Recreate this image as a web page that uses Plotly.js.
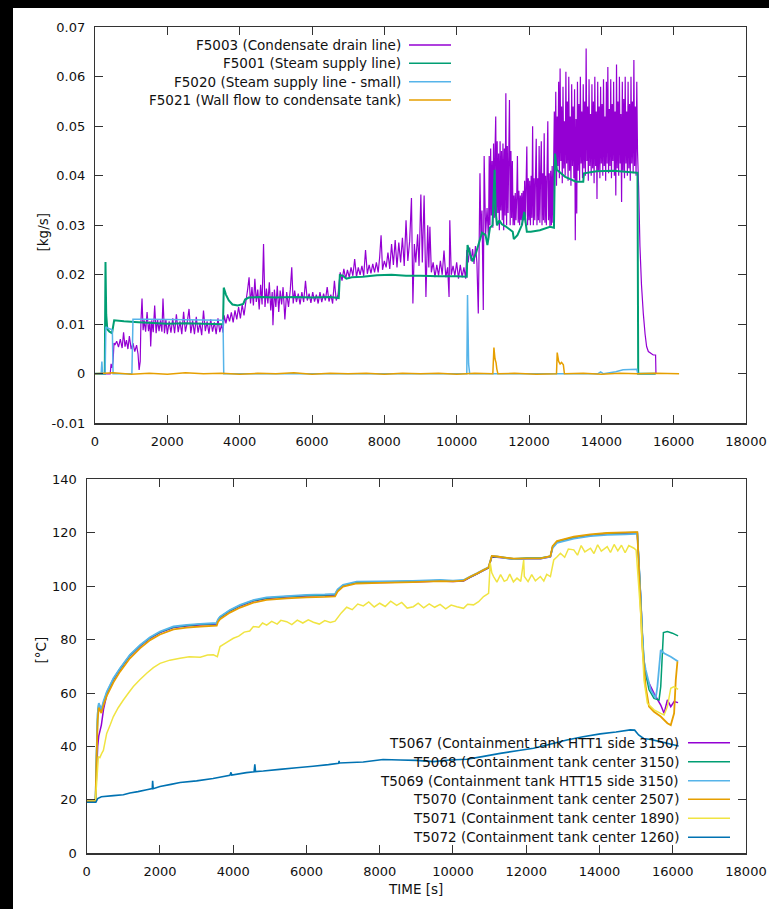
<!DOCTYPE html>
<html><head><meta charset="utf-8">
<script src="https://cdn.plot.ly/plotly-3.0.1.min.js"></script>
<style>
html,body{margin:0;padding:0;background:#000;width:769px;height:909px;overflow:hidden;}
#chart{position:absolute;left:13px;top:8px;width:756px;height:901px;background:#fff;}
#barL{position:absolute;left:0;top:0;width:13px;height:909px;background:#000;z-index:10;}
#barT{position:absolute;left:0;top:0;width:769px;height:8px;background:#000;z-index:10;}
</style></head><body><div id="chart"></div><div id="barL"></div><div id="barT"></div>
<script>
// ---------- TOP PLOT DATA (flow, kg/s) ----------
const flowNames = ["F5003 (Condensate drain line)","F5001 (Steam supply line)","F5020 (Steam supply line - small)","F5021 (Wall flow to condensate tank)"];

const tF5003 = [0,420,445,470,500,525,
550,600,650,700,750,790,830,870,910,950,1000,1050,1100,1150,1190,1220,1250,
1270,1300,1330,1360,1400,1440,1480,1520,1540,1570,1610,1650,1690,1730,1770,1810,1850,1880,1920,1960,2000,2050,2100,2150,2200,2250,2300,2350,2400,2450,2500,2550,2600,2650,2700,2750,2800,2850,2900,2950,3000,3050,3100,3150,3200,3250,3300,3350,3400,3450,3500,3540,
3570,3620,3670,3720,3770,3820,3870,3920,3970,4020,4070,4120,4170,
4220,4260,4300,4340,4380,4420,4460,4500,4540,4580,4620,4660,4700,4740,4780,4820,4860,4900,4920,4960,5000,5040,5080,5120,5160,5200,5250,5300,5350,5400,5440,5480,5520,5570,5620,5670,5720,5770,5820,5870,5920,5970,6020,6070,6120,6170,6220,6270,6320,6370,6420,6470,6520,6570,6620,6670,6720,
6780,6830,6880,6930,6980,7030,7080,7130,7180,7230,7280,7330,7380,7430,7480,7530,7580,7630,7680,7730,7780,7830,7870,7910,7950,8000,8050,8100,8150,8200,8250,8300,8350,8400,8450,8500,8550,8600,8650,8700,8750,8790,8830,8870,8920,8960,9010,9050,9100,9150,9200,9230,9260,9300,9350,9400,9450,9500,9550,9600,9650,9700,9750,9790,9810,9850,9900,9950,10000,10050,10100,10150,10200,10250,
10280,10320,10360,10400,10440,10480,10520,10560,10598,10620,10644,10670,10700,10736,10760,10800,10840,10880,
10900,10920,10940,10960,10980,11000,11020,11040,11060,11080,11100,11120,11140,11160,11180,11200,11220,11240,11260,11280,11300,11320,11340,11360,11380,11400,11420,11440,11460,11480,11500,11520,11540,11560,
11580,11600,11620,11640,11660,11680,11700,11720,11740,11760,11780,11800,11820,11840,
11860,11880,11900,11920,11940,11960,11980,12000,12020,12040,12060,12080,12100,12120,12140,12160,12180,12200,12220,12240,12260,12280,12300,12320,12340,12360,12380,12400,12420,12440,12460,12480,12500,12520,12540,12560,12580,12600,12620,12640,12660,12680,
12700,12720,12740,12760,12780,12800,12820,12840,12860,12880,12900,12920,12940,12960,12980,13000,13020,13040,13060,13080,13100,13120,13140,13160,13180,13200,13220,13240,13260,13280,13300,13320,13340,13360,13380,13400,13420,13440,13460,13480,13500,13520,13540,13560,13580,13600,13620,13640,13660,13680,13700,13720,13740,13760,13780,13800,13820,13840,13860,13880,13900,13920,13940,13960,13980,14000,14020,14040,14060,14080,14100,14120,14140,14160,14180,14200,14220,14240,14260,14280,14300,14320,14340,14360,14380,14400,14420,14440,14460,14480,14500,14520,14540,14560,14580,14600,14620,14640,14660,14680,14700,14720,14740,14760,14780,14800,14820,14840,14860,14880,14900,14920,14940,14960,14980,15000,
15030,15068,15110,15160,15210,15252,15300,15436,15500,15510];
const vF5003 = [0,0,0.0020,0.0012,0.0025,0.0062,
0.0058,0.0066,0.0054,0.0070,0.0052,0.0084,0.0055,0.0068,0.0050,0.0076,0.0050,0.0062,0.0045,0.0058,0.0040,0.0008,0.0025,
0.0105,0.0152,0.0088,0.0108,0.0085,0.0125,0.0086,0.0106,0.0055,0.0108,0.0084,0.0138,0.0082,0.0110,0.0086,0.0108,0.0085,0.0152,0.0082,0.0110,0.0080,0.0106,0.0083,0.0112,0.0082,0.0120,0.0084,0.0106,0.0080,0.0125,0.0085,0.0104,0.0131,0.0082,0.0108,0.0080,0.0115,0.0083,0.0103,0.0078,0.0128,0.0086,0.0106,0.0081,0.0110,0.0085,0.0104,0.0080,0.0112,0.0084,0.0100,0.0083,
0.0118,0.0102,0.0120,0.0106,0.0124,0.0104,0.0128,0.0110,0.0135,0.0112,0.0140,0.0118,0.0145,
0.0170,0.0195,0.0142,0.0175,0.0138,0.0192,0.0145,0.0170,0.0130,0.0180,0.0140,0.0262,0.0135,0.0172,0.0142,0.0185,0.0128,0.0165,0.0098,0.0170,0.0135,0.0178,0.0125,0.0168,0.0140,0.0175,0.0110,0.0165,0.0135,0.0170,0.0215,0.0142,0.0168,0.0145,0.0162,0.0140,0.0165,0.0145,0.0188,0.0148,0.0162,0.0143,0.0165,0.0146,0.0160,0.0142,0.0165,0.0145,0.0162,0.0148,0.0175,0.0146,0.0160,0.0142,0.0188,0.0148,0.0160,
0.0205,0.0188,0.0212,0.0192,0.0210,0.0195,0.0215,0.0198,0.0232,0.0196,0.0215,0.0200,0.0218,0.0198,0.0250,0.0202,0.0220,0.0203,0.0222,0.0205,0.0225,0.0205,0.0235,0.0280,0.0210,0.0228,0.0215,0.0245,0.0212,0.0262,0.0220,0.0270,0.0215,0.0265,0.0225,0.0275,0.0218,0.0310,0.0228,0.0268,0.0355,0.0142,0.0262,0.0225,0.0282,0.0218,0.0362,0.0225,0.0360,0.0155,0.0300,0.0215,0.0297,0.0205,0.0225,0.0195,0.0220,0.0198,0.0228,0.0200,0.0249,0.0195,0.0215,0.0155,0.0310,0.0200,0.0218,0.0198,0.0225,0.0192,0.0220,0.0195,0.0215,0.0192,
0.0250,0.0225,0.0255,0.0228,0.0252,0.0222,0.0258,0.0225,0.0122,0.0250,0.0405,0.0280,0.0330,0.0129,0.0440,0.0280,0.0335,0.0270,
0.0440,0.0300,0.0455,0.0320,0.0430,0.0295,0.0465,0.0315,0.0450,0.0520,0.0300,0.0470,0.0325,0.0445,0.0290,0.0470,0.0330,0.0450,0.0310,0.0465,0.0290,0.0455,0.0320,0.0567,0.0300,0.0460,0.0325,0.0440,0.0553,0.0300,0.0450,0.0315,0.0430,0.0300,
0.0360,0.0300,0.0365,0.0310,0.0355,0.0440,0.0305,0.0370,0.0300,0.0360,0.0310,0.0365,0.0300,0.0370,
0.0310,0.0390,0.0305,0.0385,0.0459,0.0300,0.0395,0.0310,0.0390,0.0300,0.0400,0.0315,0.0500,0.0300,0.0395,0.0310,0.0400,0.0475,0.0300,0.0395,0.0310,0.0460,0.0305,0.0400,0.0470,0.0300,0.0405,0.0310,0.0486,0.0305,0.0400,0.0300,0.0410,0.0510,0.0310,0.0405,0.0295,0.0410,0.0300,0.0420,0.0305,0.0415,
0.0530,0.0410,0.0570,0.0380,0.0520,0.0420,0.0590,0.0395,0.0617,0.0430,0.0540,0.0385,0.0580,0.0415,0.0510,0.0400,0.0610,0.0425,0.0550,0.0390,0.0600,0.0410,0.0520,0.0380,0.0585,0.0420,0.0540,0.0395,0.0575,0.0270,0.0515,0.0324,0.0590,0.0410,0.0545,0.0390,0.0600,0.0425,0.0530,0.0395,0.0585,0.0415,0.0550,0.0400,0.0657,0.0430,0.0540,0.0390,0.0595,0.0420,0.0525,0.0400,0.0585,0.0415,0.0550,0.0385,0.0600,0.0420,0.0530,0.0353,0.0590,0.0410,0.0540,0.0395,0.0580,0.0425,0.0545,0.0400,0.0595,0.0420,0.0520,0.0390,0.0590,0.0425,0.0620,0.0405,0.0535,0.0420,0.0595,0.0395,0.0545,0.0430,0.0590,0.0400,0.0530,0.0360,0.0625,0.0415,0.0550,0.0400,0.0600,0.0425,0.0525,0.0347,0.0590,0.0410,0.0555,0.0395,0.0600,0.0425,0.0530,0.0400,0.0590,0.0415,0.0545,0.0390,0.0600,0.0425,0.0550,0.0405,0.0634,0.0420,0.0540,0.0400,0.0590,0.0450,
0.0380,0.0257,0.0180,0.0122,0.0080,0.0055,0.0045,0.0038,0.0038,0];

const tF5001 = [0,270,290,310,340,400,470,500,530,800,1200,2000,2500,3000,3540,3560,3620,3700,3800,3950,4100,4150,4250,4600,5000,5500,6000,6500,6740,6770,6850,6950,7100,7400,7800,8200,8600,9000,9500,10000,10280,10300,10380,10440,10530,10640,10700,10800,10850,10920,10990,11050,11080,11120,11180,11250,11350,11460,11550,11580,11680,11800,11870,11940,12050,12300,12580,12690,12720,12770,13000,13300,13500,13520,13870,14330,14980,15000,15020,15500];
const vF5001 = [0,0,0.0226,0.0120,0.0090,0.0085,0.0082,0.0095,0.0108,0.0106,0.0104,0.0101,0.0102,0.0101,0.0100,0.0174,0.0160,0.0148,0.0140,0.0138,0.0141,0.0150,0.0154,0.0155,0.0154,0.0155,0.0154,0.0155,0.0153,0.0199,0.0198,0.0192,0.0195,0.0196,0.0199,0.0200,0.0198,0.0198,0.0197,0.0197,0.0196,0.0260,0.0240,0.0227,0.0243,0.0270,0.0285,0.0280,0.0260,0.0295,0.0300,0.0412,0.0324,0.0300,0.0310,0.0302,0.0298,0.0292,0.0287,0.0272,0.0280,0.0300,0.0327,0.0287,0.0287,0.0290,0.0297,0.0295,0.0445,0.0412,0.0398,0.0388,0.0388,0.0405,0.0409,0.0410,0.0406,0.0406,0,0];

const tF5020 = [0,170,190,210,280,300,360,440,480,500,1020,1050,1500,2500,3540,3560,10280,10300,10330,10360,13900,13980,14060,14400,14600,14980,15010,15500];
const vF5020 = [0,0,0.0025,0,0,0.0095,0.0092,0.0090,0.0088,0,0,0.0110,0.0110,0.0109,0.0108,0,0,0.0159,0.0020,0,0,0.0004,0,0.0004,0.0008,0.0009,0,0];

const tF5021 = [0,500,1000,1500,2000,2500,3000,3500,4000,4500,5000,5500,6000,6500,7000,7500,8000,8500,9000,9500,10000,10500,11000,11030,11060,11090,11110,11140,11600,12200,12760,12780,12820,12860,12900,12950,12980,13500,14000,14500,15000,15500,16150];
const vF5021 = [0,0.0002,-0.0001,0.0001,-0.0001,0.0002,0,0.0001,-0.0001,0.0001,0,0.0002,-0.0001,0.0001,0,0.0001,-0.0001,0.0001,0,0.0001,-0.0001,0.0001,0,0.0053,0.0030,0.0022,0.0010,0,0.0001,-0.0001,0,0.0043,0.0025,0.0020,0.0023,0.0018,0,0.0001,-0.0001,0.0001,0,0.0001,0];

// ---------- BOTTOM PLOT DATA (temperature, °C) ----------
const tempNames = ["T5067 (Containment tank HTT1 side 3150)","T5068 (Containment tank center 3150)","T5069 (Containment tank HTT15 side 3150)","T5070 (Containment tank center 2507)","T5071 (Containment tank center 1890)","T5072 (Containment tank center 1260)"];

const tMain = [0,240,270,300,330,400,460,550,730,910,1180,1460,1730,2000,2370,2730,3100,3550,3580,3640,3910,4190,4550,4910,5460,6000,6500,6780,6850,7000,7370,8000,8900,9650,10000,10290,10470,10650,10830,10970,11060,11200,11470,11660,12020,12390,12660,12720,12840,13300,13750,14210,14700,14990];

const vT5067 = [19.5,19.5,30,40,44,48,54,59.5,65,68.9,73.9,77.6,80.5,82.6,84.5,85.1,85.5,85.8,87.1,88.2,90.7,92.6,94.4,95.4,95.9,96.3,96.5,96.7,98.4,100.1,101.3,101.4,101.6,101.9,101.7,101.9,103.3,104.5,105.8,106.8,110.9,110.8,110.4,110.1,110.3,110.3,111.0,114.5,116.5,118.1,119.0,119.6,119.8,119.9];
const tT5067tail = [15033,15078,15124,15170,15215,15307,15489,15672,15763,15854,15946,16037,16146];
const vT5067tail = [119.9,108,96,82,69.9,64.9,59.9,55.5,52.4,57.4,54.9,56.8,56.4];

const vT5068 = [19.5,19.5,38,53,56,53.5,56.5,60.3,65.3,69.1,74.1,77.8,80.7,82.8,84.7,85.3,85.7,86.0,87.3,88.4,90.9,92.8,94.6,95.6,96.1,96.5,96.7,96.9,98.6,100.3,101.5,101.6,101.8,102.1,101.9,102.1,103.4,104.6,105.9,106.9,111.1,111.0,110.6,110.3,110.5,110.5,111.2,114.8,116.7,118.3,119.2,119.8,120.0,120.1];
const tT5068tail = [15033,15078,15124,15170,15215,15261,15352,15489,15626,15672,15745,15854,15991,16146];
const vT5068tail = [120.1,108.6,96,82,72,67.4,61.2,58,57.4,62.4,82.6,83,82.4,81.4];

const vT5069 = [19.8,19.8,38,52,56.2,53.8,57,60.5,65.5,69.3,74.3,78,80.9,83,84.9,85.5,85.9,86.2,87.5,88.6,91.1,93,94.8,95.8,96.3,96.7,96.9,97.1,98.8,100.5,101.7,101.8,102,102.3,102.1,102.3,103.6,104.8,106.1,107.1,111.3,111.1,110.4,110.1,110.3,110.3,111.1,114.3,116.2,117.8,118.7,119.2,119.4,119.6];
const tT5069tail = [15033,15078,15124,15170,15215,15261,15398,15535,15581,15672,15763,15946,16146];
const vT5069tail = [119.6,108,95.5,82,72,68.7,61.2,58,62.4,76.1,74.9,73.6,71.8];

const vT5070 = [19.5,19.5,36,50,54.5,52.5,55.5,59,64,68,73,76.8,79.8,81.9,83.8,84.5,84.9,85.2,86.5,87.6,90.1,92,93.8,94.9,95.4,95.8,96,96.2,98,99.8,101,101.2,101.5,101.9,101.8,102.1,103.5,104.7,106,107,111.3,111.1,110.6,110.3,110.4,110.4,111.2,115,116.9,118.5,119.4,119.9,120.1,120.2];
const tT5070tail = [15033,15078,15124,15170,15261,15352,15489,15672,15854,15946,16037,16083,16128];
const vT5070tail = [120.2,106,92,77.4,62.4,54.9,53,51.2,48.7,48,52.4,64.9,71.8];

const tT5071 = [0,240,280,318,360,410,455,546,640,728,860,1001,1140,1274,1450,1638,1820,2002,2270,2548,2800,3100,3300,3458,3567,3640,3800,4004,4150,4300,4450,4550,4700,4800,4914,5050,5200,5300,5460,5600,5750,5900,6050,6188,6350,6500,6650,6780,6950,7098,7250,7400,7553,7700,7850,8000,8150,8300,8463,8600,8750,8918,9050,9200,9350,9500,9649,9800,9950,10105,10288,10400,10561,10700,10835,10972,11018,11060,11109,11200,11300,11400,11474,11550,11650,11748,11850,11930,11948,12050,12150,12250,12387,12480,12560,12660,12751,12850,12934,13050,13150,13299,13400,13500,13600,13755,13850,13950,14050,14211,14300,14400,14500,14600,14700,14800,14941,15000,15124,15215,15307,15489,15672,15763,15854,15946,16037,16146];
const vT5071 = [20,20,28,36.2,35.8,37.4,38.5,44.9,48,51.2,54.5,57.4,60,62.4,65,67.4,69.5,71.1,72.3,73,73.6,73.4,74.2,74.3,73.6,77.4,78.8,80.5,81.3,82.8,83.2,84.9,84.6,86.2,85.4,86.8,85.8,87.2,86.7,85.6,87.3,86.2,87.4,86.5,85.8,87.1,86.4,86.9,90,92.1,91.2,93.3,92.6,94.1,92.2,93.6,92.4,94.4,92.8,93.9,91.8,92.3,93.6,91.9,93.4,92.1,93.2,91.5,92.9,92.3,91.7,93.2,93,94.2,96.1,97.3,108.6,105,103.6,101.5,104.3,101.8,102.3,104.5,101.6,103,101.8,109.8,103.6,101.7,104.3,102,103.6,101.9,104.4,103.6,109.8,111.1,112.3,110.8,113.9,113.6,111.6,115.2,112.8,114.2,112.2,115.5,113.1,114.8,112.6,115.6,113.2,115.3,112.5,115.2,114.2,113.5,89.9,64.9,56.2,53.7,52.4,51.8,54.9,61.8,62.4,61.4];

const tT5072 = [0,250,300,400,730,1000,1180,1400,1640,1790,1800,1815,2000,2300,2550,3000,3450,3910,3940,3960,4360,4570,4590,4610,4820,5270,5730,6180,6600,6880,6890,6900,7550,8090,8558,9000,9468,9900,10380,10800,11290,11750,12200,12650,13111,13550,14021,14450,14840,14960,15068,15205,15400,15660,15900,16160];
const vT5072 = [19.1,19.1,20.5,21.2,21.6,21.9,22.6,23.1,23.8,24.2,27.1,24.2,25,25.8,26.5,27.1,28,29.2,30.3,29.3,30.2,30.5,33.3,30.6,30.8,31.4,32,32.6,33.2,33.7,34.6,33.8,34.2,35.1,34.9,34.8,34.3,34.9,35.2,36.2,37.4,38.4,39.3,40.8,42.4,43.6,44.7,45.4,46.2,46.1,44.3,43,42.6,41.8,41,40.2];

// ---------- AXIS TICKS ----------
const xTickVals = [0,2000,4000,6000,8000,10000,12000,14000,16000,18000];
const flowTickVals = [-0.01,0,0.01,0.02,0.03,0.04,0.05,0.06,0.07];
const flowTickText = ["-0.01","0","0.01","0.02","0.03","0.04","0.05","0.06","0.07"];
const tempTickVals = [0,20,40,60,80,100,120,140];

// ---------- STYLE ----------
const flowColors = ["#9400d3","#009e73","#56b4e9","#e69f00"];
const flowWidths = [1.2,2,1.5,1.5];
const tempColors = ["#9400d3","#009e73","#56b4e9","#e69f00","#f0e442","#0072b2"];
const tempWidths = [1.5,1.5,1.8,1.8,1.5,1.6];

const W=756,H=901,OX=13,OY=8;
const px = x => (x-OX)/W;
const py = y => 1-(y-OY)/H;
const FONT = "DejaVu Sans";

function tr(x,y,c,w,xa,ya){return {x:x,y:y,type:"scatter",mode:"lines",line:{color:c,width:w,simplify:false},xaxis:xa,yaxis:ya,hoverinfo:"skip",showlegend:false};}

const traces = [
  tr(tF5003,vF5003,flowColors[0],flowWidths[0],"x","y"),
  tr(tF5001,vF5001,flowColors[1],flowWidths[1],"x","y"),
  tr(tF5020,vF5020,flowColors[2],flowWidths[2],"x","y"),
  tr(tF5021,vF5021,flowColors[3],flowWidths[3],"x","y"),
  tr(tMain.concat(tT5067tail),vT5067.concat(vT5067tail),tempColors[0],tempWidths[0],"x2","y2"),
  tr(tMain.concat(tT5068tail),vT5068.concat(vT5068tail),tempColors[1],tempWidths[1],"x2","y2"),
  tr(tMain.concat(tT5069tail),vT5069.concat(vT5069tail),tempColors[2],tempWidths[2],"x2","y2"),
  tr(tMain.concat(tT5070tail),vT5070.concat(vT5070tail),tempColors[3],tempWidths[3],"x2","y2"),
  tr(tT5071,vT5071,tempColors[4],tempWidths[4],"x2","y2"),
  tr(tT5072,vT5072,tempColors[5],tempWidths[5],"x2","y2")
];

const axCommon = {ticks:"inside",ticklen:8,tickwidth:1,tickcolor:"#333",showline:true,linecolor:"#333",linewidth:1.2,mirror:"ticks",showgrid:false,zeroline:false,tickfont:{family:FONT,size:13,color:"#111"},fixedrange:true};

const annotations = [];
const shapes = [];
const ann = (text,x,y,opt) => Object.assign({text:text,xref:"paper",yref:"paper",x:px(x),y:py(y),showarrow:false,font:{family:FONT,size:13.5,color:"#111"}},opt||{});

// legend rows (gnuplot style: text right-aligned, sample on the right)
const flowLegY = [45,63.3,81.7,100];
flowNames.forEach((n,i)=>{
  annotations.push(ann(n,403,flowLegY[i],{xanchor:"right",yanchor:"middle"}));
  shapes.push({type:"line",xref:"paper",yref:"paper",x0:px(409),x1:px(451),y0:py(flowLegY[i]),y1:py(flowLegY[i]),line:{color:flowColors[i],width:1.5}});
});
const tempLegY = [742.7,761.7,780.7,799.3,818.3,837.3];
tempNames.forEach((n,i)=>{
  annotations.push(ann(n,681,tempLegY[i],{xanchor:"right",yanchor:"middle"}));
  shapes.push({type:"line",xref:"paper",yref:"paper",x0:px(688),x1:px(730),y0:py(tempLegY[i]),y1:py(tempLegY[i]),line:{color:tempColors[i],width:1.5}});
});
annotations.push(ann("[kg/s]",33,211,{textangle:-90}));
annotations.push(ann("[°C]",30,666,{textangle:-90}));
annotations.push(ann("TIME [s]",416,899));

const layout = {
  width:W,height:H,margin:{l:0,r:0,t:0,b:0},paper_bgcolor:"#fff",plot_bgcolor:"#fff",showlegend:false,
  font:{family:FONT,size:13,color:"#111"},
  xaxis:Object.assign({},axCommon,{domain:[px(95),px(746)],range:[0,18000],tickvals:xTickVals,tickformat:"d",anchor:"y",ticklabelstandoff:6}),
  yaxis:Object.assign({},axCommon,{domain:[py(423.3),py(27.3)],range:[-0.01,0.07],tickvals:flowTickVals,ticktext:flowTickText,anchor:"x",ticklabelstandoff:6}),
  xaxis2:Object.assign({},axCommon,{domain:[px(86.7),px(746)],range:[0,18000],tickvals:xTickVals,tickformat:"d",anchor:"y2",ticklabelstandoff:6}),
  yaxis2:Object.assign({},axCommon,{domain:[py(853.3),py(479.3)],range:[0,140],tickvals:tempTickVals,anchor:"x2",ticklabelstandoff:6}),
  annotations:annotations,shapes:shapes
};
Plotly.newPlot("chart",traces,layout,{staticPlot:true,displayModeBar:false});
</script></body></html>
